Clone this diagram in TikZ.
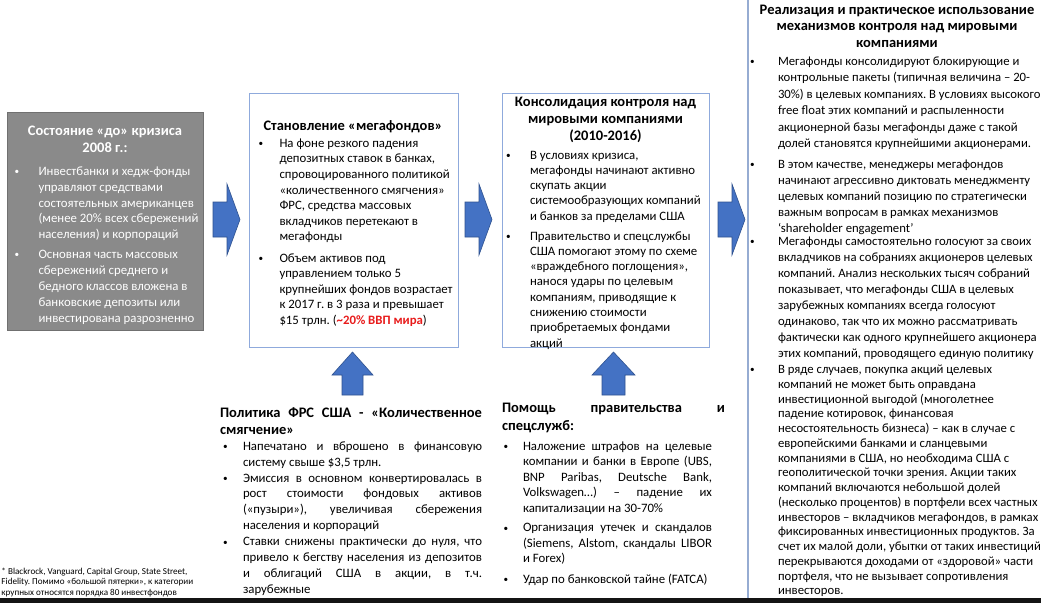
\documentclass[tikz,border=0pt]{standalone}
\usepackage{fontspec}
\usepackage{graphicx}
\setmainfont{Carlito}
\frenchspacing
\definecolor{greyfill}{RGB}{138,138,138}
\definecolor{greyline}{RGB}{112,112,112}
\definecolor{arrowblue}{RGB}{68,114,196}
\definecolor{arrowline}{RGB}{47,82,143}
\definecolor{boxline}{RGB}{143,170,220}
\definecolor{sepline}{RGB}{150,172,210}
\definecolor{hotred}{RGB}{232,28,28}
\newcommand\bmark[1]{\llap{\makebox[#1][l]{\raisebox{0.6pt}{\scalebox{0.72}{\textbullet}}}}}
\newcommand\jline[1]{\makebox[\hsize][s]{#1}}
\tikzset{
  every node/.style={inner sep=0pt, outer sep=0pt},
  body/.style={anchor=base west, text width=#1,
    execute at begin node={\raggedright\spaceskip=0pt\xspaceskip=0pt\relax}},
  body/.default=280pt,
  sz/.style n args={2}{font=\fontsize{#1}{#2}\selectfont},
  ttl/.style={anchor=base, font=\fontsize{14.5}{17}\selectfont\bfseries,
    execute at begin node={\centering\spaceskip=0pt\xspaceskip=0pt\relax}},
  blockarrow/.style={fill=arrowblue, draw=arrowline, line width=0.6pt},
  framebox/.style={draw=boxline, line width=1pt, anchor=north west},
  greybox/.style={fill=greyfill, draw=greyline, line width=0.8pt, anchor=north west},
}
\begin{document}
\begin{tikzpicture}[x=1pt,y=-1pt]
\useasboundingbox (0,0) rectangle (1041,603);
\fill[white] (0,0) rectangle (1041,603);

% boxes
\node[greybox, minimum width=196pt, minimum height=218pt] (before) at (7,112) {};
\node[framebox, minimum width=209pt, minimum height=254pt] (mega) at (249,93) {};
\node[framebox, minimum width=207pt, minimum height=254pt] (consol) at (502,93) {};
\draw[sepline, line width=1.5pt] (748,0) coordinate (septop) -- (748,598) coordinate (sepbot);

% right block arrows
\draw[blockarrow] (213,202) -- (227,202) -- (227,184) -- (240,219.5) -- (227,255) -- (227,237) -- (213,237) -- cycle;
\draw[blockarrow] (465,202) -- (479,202) -- (479,184) -- (492,219.5) -- (479,255) -- (479,237) -- (465,237) -- cycle;
\draw[blockarrow] (718,202) -- (732,202) -- (732,184) -- (745,219.5) -- (732,255) -- (732,237) -- (718,237) -- cycle;
% up block arrows
\draw[blockarrow] (342,395) -- (342,375) -- (332,375) -- (352.5,352) -- (373,375) -- (363,375) -- (363,395) -- cycle;
\draw[blockarrow] (602,395) -- (602,375) -- (592,375) -- (613.5,352) -- (635,375) -- (625,375) -- (625,395) -- cycle;

% grey box text
\node[ttl, text width=190pt, text=white] (t1) at (105,135.5) {Состояние «до» кризиса\\2008 г.:};
\node[body, sz={12.8}{15.9}, text=white] (t1a) at (38.5,175.2) {\bmark{24pt}Инвестбанки и хедж-фонды\\управляют средствами\\состоятельных американцев\\(менее 20\% всех сбережений\\населения) и корпораций};
\node[body, sz={12.8}{15.9}, text=white] (t1b) at (38.5,258.5) {\bmark{24pt}Основная часть массовых\\сбережений среднего и\\бедного классов вложена в\\банковские депозиты или\\инвестирована разрозненно};

% box 2 text
\node[ttl, text width=205pt] (t2) at (353,130) {Становление «мегафондов»};
\node[body, sz={12.8}{15.6}] (t2a) at (279.5,147.3) {\bmark{21pt}На фоне резкого падения\\депозитных ставок в банках,\\спровоцированного политикой\\«количественного смягчения»\\ФРС, средства массовых\\вкладчиков перетекают в\\мегафонды};
\node[body, sz={12.8}{15.6}] (t2b) at (279.5,262) {\bmark{21pt}Объем активов под\\управлением только 5\\крупнейших фондов возрастает\\к 2017 г. в 3 раза и превышает\\\$15 трлн. ({\color{hotred}\bfseries\textasciitilde 20\% ВВП мира})};

% box 3 text
\node[ttl, text width=205pt] (t3) at (605.5,106) {Консолидация контроля над\\мировыми компаниями\\(2010-2016)};
\node[body, sz={12.8}{15.3}] (t3a) at (530,159) {\bmark{24pt}В условиях кризиса,\\мегафонды начинают активно\\скупать акции\\системообразующих компаний\\и банков за пределами США};
\node[body, sz={12.8}{15.3}] (t3b) at (530,240) {\bmark{24pt}Правительство и спецслужбы\\США помогают этому по схеме\\«враждебного поглощения»,\\нанося удары по целевым\\компаниям, приводящие к\\снижению стоимости\\приобретаемых фондами\\акций};

% right column
\node[ttl, text width=290pt, font=\fontsize{14.5}{16.6}\selectfont\bfseries] (t4) at (897,14) {Реализация и практическое использование\\механизмов контроля над мировыми\\компаниями};
\node[body, sz={12.7}{16.4}] (t4a) at (778,65.5) {\bmark{28pt}Мегафонды консолидируют блокирующие и\\контрольные пакеты (типичная величина – 20-\\30\%) в целевых компаниях. В условиях высокого\\free float этих компаний и распыленности\\акционерной базы мегафонды даже с такой\\долей становятся крупнейшими акционерами.};
\node[body, sz={12.7}{16}] (t4b) at (778,168.5) {\bmark{28pt}В этом качестве, менеджеры мегафондов\\начинают агрессивно диктовать менеджменту\\целевых компаний позицию по стратегически\\важным вопросам в рамках механизмов\\‘shareholder engagement’};
\node[body, sz={12.7}{16}] (t4c) at (778,245.2) {\bmark{28pt}Мегафонды самостоятельно голосуют за своих\\вкладчиков на собраниях акционеров целевых\\компаний. Анализ нескольких тысяч собраний\\показывает, что мегафонды США в целевых\\зарубежных компаниях всегда голосуют\\одинаково, так что их можно рассматривать\\фактически как одного крупнейшего акционера\\этих компаний, проводящего единую политику};
\node[body, sz={12.7}{14.75}] (t4d) at (778,373.5) {\bmark{28pt}В ряде случаев, покупка акций целевых\\компаний не может быть оправдана\\инвестиционной выгодой (многолетнее\\падение котировок, финансовая\\несостоятельность бизнеса) – как в случае с\\европейскими банками и сланцевыми\\компаниями в США, но необходима США с\\геополитической точки зрения. Акции таких\\компаний включаются небольшой долей\\(несколько процентов) в портфели всех частных\\инвесторов – вкладчиков мегафондов, в рамках\\фиксированных инвестиционных продуктов. За\\счет их малой доли, убытки от таких инвестиций\\перекрываются доходами от «здоровой» части\\портфеля, что не вызывает сопротивления\\инвесторов.};

% bottom section A
\node[body=262pt, font=\fontsize{14.5}{16.7}\selectfont\bfseries] (t5) at (220,417.5) {\jline{Политика ФРС США - «Количественное}\\смягчение»};
\node[body=239pt, sz={12.8}{15.9}] (t5a) at (243,450.2) {\bmark{20pt}\jline{Напечатано и вброшено в финансовую}\\систему свыше \$3,5 трлн.};
\node[body=239pt, sz={12.8}{15.9}] (t5b) at (243,482) {\bmark{20pt}\jline{Эмиссия в основном конвертировалась в}\\\jline{рост стоимости фондовых активов}\\\jline{(«пузыри»), увеличивая сбережения}\\населения и корпораций};
\node[body=239pt, sz={12.8}{15.9}] (t5c) at (243,545.6) {\bmark{20pt}\jline{Ставки снижены практически до нуля, что}\\\jline{привело к бегству населения из депозитов}\\\jline{и облигаций США в акции, в т.ч.}\\зарубежные};

% bottom section B
\node[body=223pt, font=\fontsize{14.5}{18.4}\selectfont\bfseries] (t6) at (502,412.5) {\jline{Помощь правительства и}\\спецслужб:};
\node[body=189pt, sz={12.8}{15.45}] (t6a) at (523,450.2) {\bmark{19.5pt}\jline{Наложение штрафов на целевые}\\\jline{компании и банки в Европе (UBS,}\\\jline{BNP Paribas, Deutsche Bank,}\\\jline{Volkswagen…) – падение их}\\капитализации на 30-70\%};
\node[body=189pt, sz={12.8}{15.5}] (t6b) at (523,531.8) {\bmark{19.5pt}\jline{Организация утечек и скандалов}\\\jline{(Siemens, Alstom, скандалы LIBOR}\\и Forex)};
\node[body=189pt, sz={12.8}{15.5}] (t6c) at (523,583.5) {\bmark{19.5pt}Удар по банковской тайне (FATCA)};

% footnote
\node[body=230pt, sz={9.1}{10.5}] (fn) at (1.5,574.3) {* Blackrock, Vanguard, Capital Group, State Street,\\Fidelity. Помимо «большой пятерки», к категории\\крупных относятся порядка 80 инвестфондов};

% bottom dark bar
\fill[black!92] (0,598) rectangle (1041,603);
\end{tikzpicture}
\end{document}
